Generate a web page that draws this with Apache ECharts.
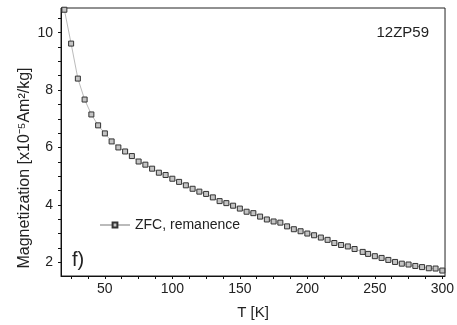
<!DOCTYPE html>
<html>
<head>
<meta charset="utf-8">
<script src="https://cdn.jsdelivr.net/npm/echarts@6/dist/echarts.min.js"></script>
<style>
	html, body { margin: 0; padding: 0; background: #fff; }
	#chart { width: 457px; height: 325px; }
</style>
</head>
<body>
<div id="chart"></div>
<script>
// 데이터
var tempK = [20, 25, 30, 35, 40, 45, 50, 55, 60, 65, 70, 75, 80, 85, 90, 95,
	100, 105, 110, 115, 120, 125, 130, 135, 140, 145, 150, 155, 160, 165, 170, 175,
	180, 185, 190, 195, 200, 205, 210, 215, 220, 225, 230, 235, 241, 245, 250, 255,
	260, 265, 270, 275, 280, 285, 290, 295, 300];
var magZfc = [10.80, 9.62, 8.40, 7.67, 7.15, 6.77, 6.49, 6.21, 6.00, 5.86, 5.70, 5.51, 5.40, 5.26, 5.12, 5.04,
	4.91, 4.80, 4.68, 4.56, 4.46, 4.38, 4.26, 4.13, 4.06, 3.97, 3.87, 3.76, 3.71, 3.59, 3.49, 3.42,
	3.38, 3.25, 3.15, 3.08, 3.00, 2.94, 2.86, 2.78, 2.67, 2.60, 2.55, 2.46, 2.36, 2.29, 2.21, 2.15,
	2.08, 2.01, 1.95, 1.92, 1.87, 1.83, 1.79, 1.78, 1.71];

// 축 눈금
var xTicks = [25, 37.5, 50, 62.5, 75, 87.5, 100, 112.5, 125, 137.5, 150, 162.5, 175, 187.5,
	200, 212.5, 225, 237.5, 250, 262.5, 275, 287.5, 300];
var xLabels = [50, 100, 150, 200, 250, 300];
var yTicks = [2, 2.5, 3, 3.5, 4, 4.5, 5, 5.5, 6, 6.5, 7, 7.5, 8, 8.5, 9, 9.5, 10, 10.5];
var yLabels = [2, 4, 6, 8, 10];

var seriesName = 'ZFC, remanence';
var sampleName = '12ZP59';
var panelName = 'f)';
var yName = 'Magnetization [x10\u207B\u2075Am\u00B2/kg]';

var chart = echarts.init(document.getElementById('chart'));

var points = [];
for (var i = 0; i < tempK.length; i++) {
	points.push([tempK[i], magZfc[i]]);
}

var fontName = 'Liberation Sans';

var option = {
	animation: false,
	backgroundColor: '#fff',
	textStyle: { fontFamily: fontName },
	grid: {
		left: 61,
		right: 6,
		top: 8,
		bottom: 48,
		show: true,
		borderColor: '#222',
		borderWidth: 1
	},
	title: [{
		text: sampleName,
		right: 23,
		top: 20,
		textStyle: { fontFamily: fontName, fontSize: 15, fontWeight: 'normal', color: '#222' }
	}, {
		text: panelName,
		left: 67,
		top: 245,
		textStyle: { fontFamily: fontName, fontSize: 20, fontWeight: 'normal', color: '#222' }
	}],
	// y축 이름은 세로 텍스트로 따로 배치
	graphic: [{
		type: 'text',
		x: 25,
		y: 168,
		rotation: Math.PI / 2,
		style: {
			text: yName,
			fontFamily: fontName,
			fontSize: 16,
			fill: '#222',
			align: 'center',
			verticalAlign: 'middle'
		}
	}],
	legend: {
		data: [seriesName],
		left: 94,
		top: 213,
		itemWidth: 30,
		itemHeight: 6,
		itemGap: 8,
		textStyle: { fontFamily: fontName, fontSize: 14, color: '#222' }
	},
	xAxis: {
		type: 'value',
		min: 17.5,
		max: 302,
		name: 'T [K]',
		nameLocation: 'middle',
		nameGap: 29,
		nameTextStyle: { fontFamily: fontName, fontSize: 15, color: '#222' },
		splitLine: { show: false },
		axisLine: { show: true, lineStyle: { color: '#111', width: 1 } },
		axisTick: { show: true, inside: false, length: 3, customValues: xTicks, lineStyle: { color: '#111' } },
		axisLabel: { customValues: xLabels, fontSize: 14, color: '#222', margin: 6 }
	},
	yAxis: {
		type: 'value',
		min: 1.52,
		max: 10.86,
		splitLine: { show: false },
		axisLine: { show: true, lineStyle: { color: '#111', width: 1 } },
		axisTick: { show: true, inside: false, length: 3, customValues: yTicks, lineStyle: { color: '#111' } },
		axisLabel: { customValues: yLabels, fontSize: 14, color: '#222', margin: 8 }
	},
	series: [{
		name: seriesName,
		type: 'line',
		data: points,
		symbol: 'rect',
		symbolSize: 5,
		showAllSymbol: true,
		lineStyle: { color: '#bbb', width: 1 },
		itemStyle: { color: '#c4c4c4', borderColor: '#333', borderWidth: 1 }
	}]
};

chart.setOption(option);
</script>
</body>
</html>
